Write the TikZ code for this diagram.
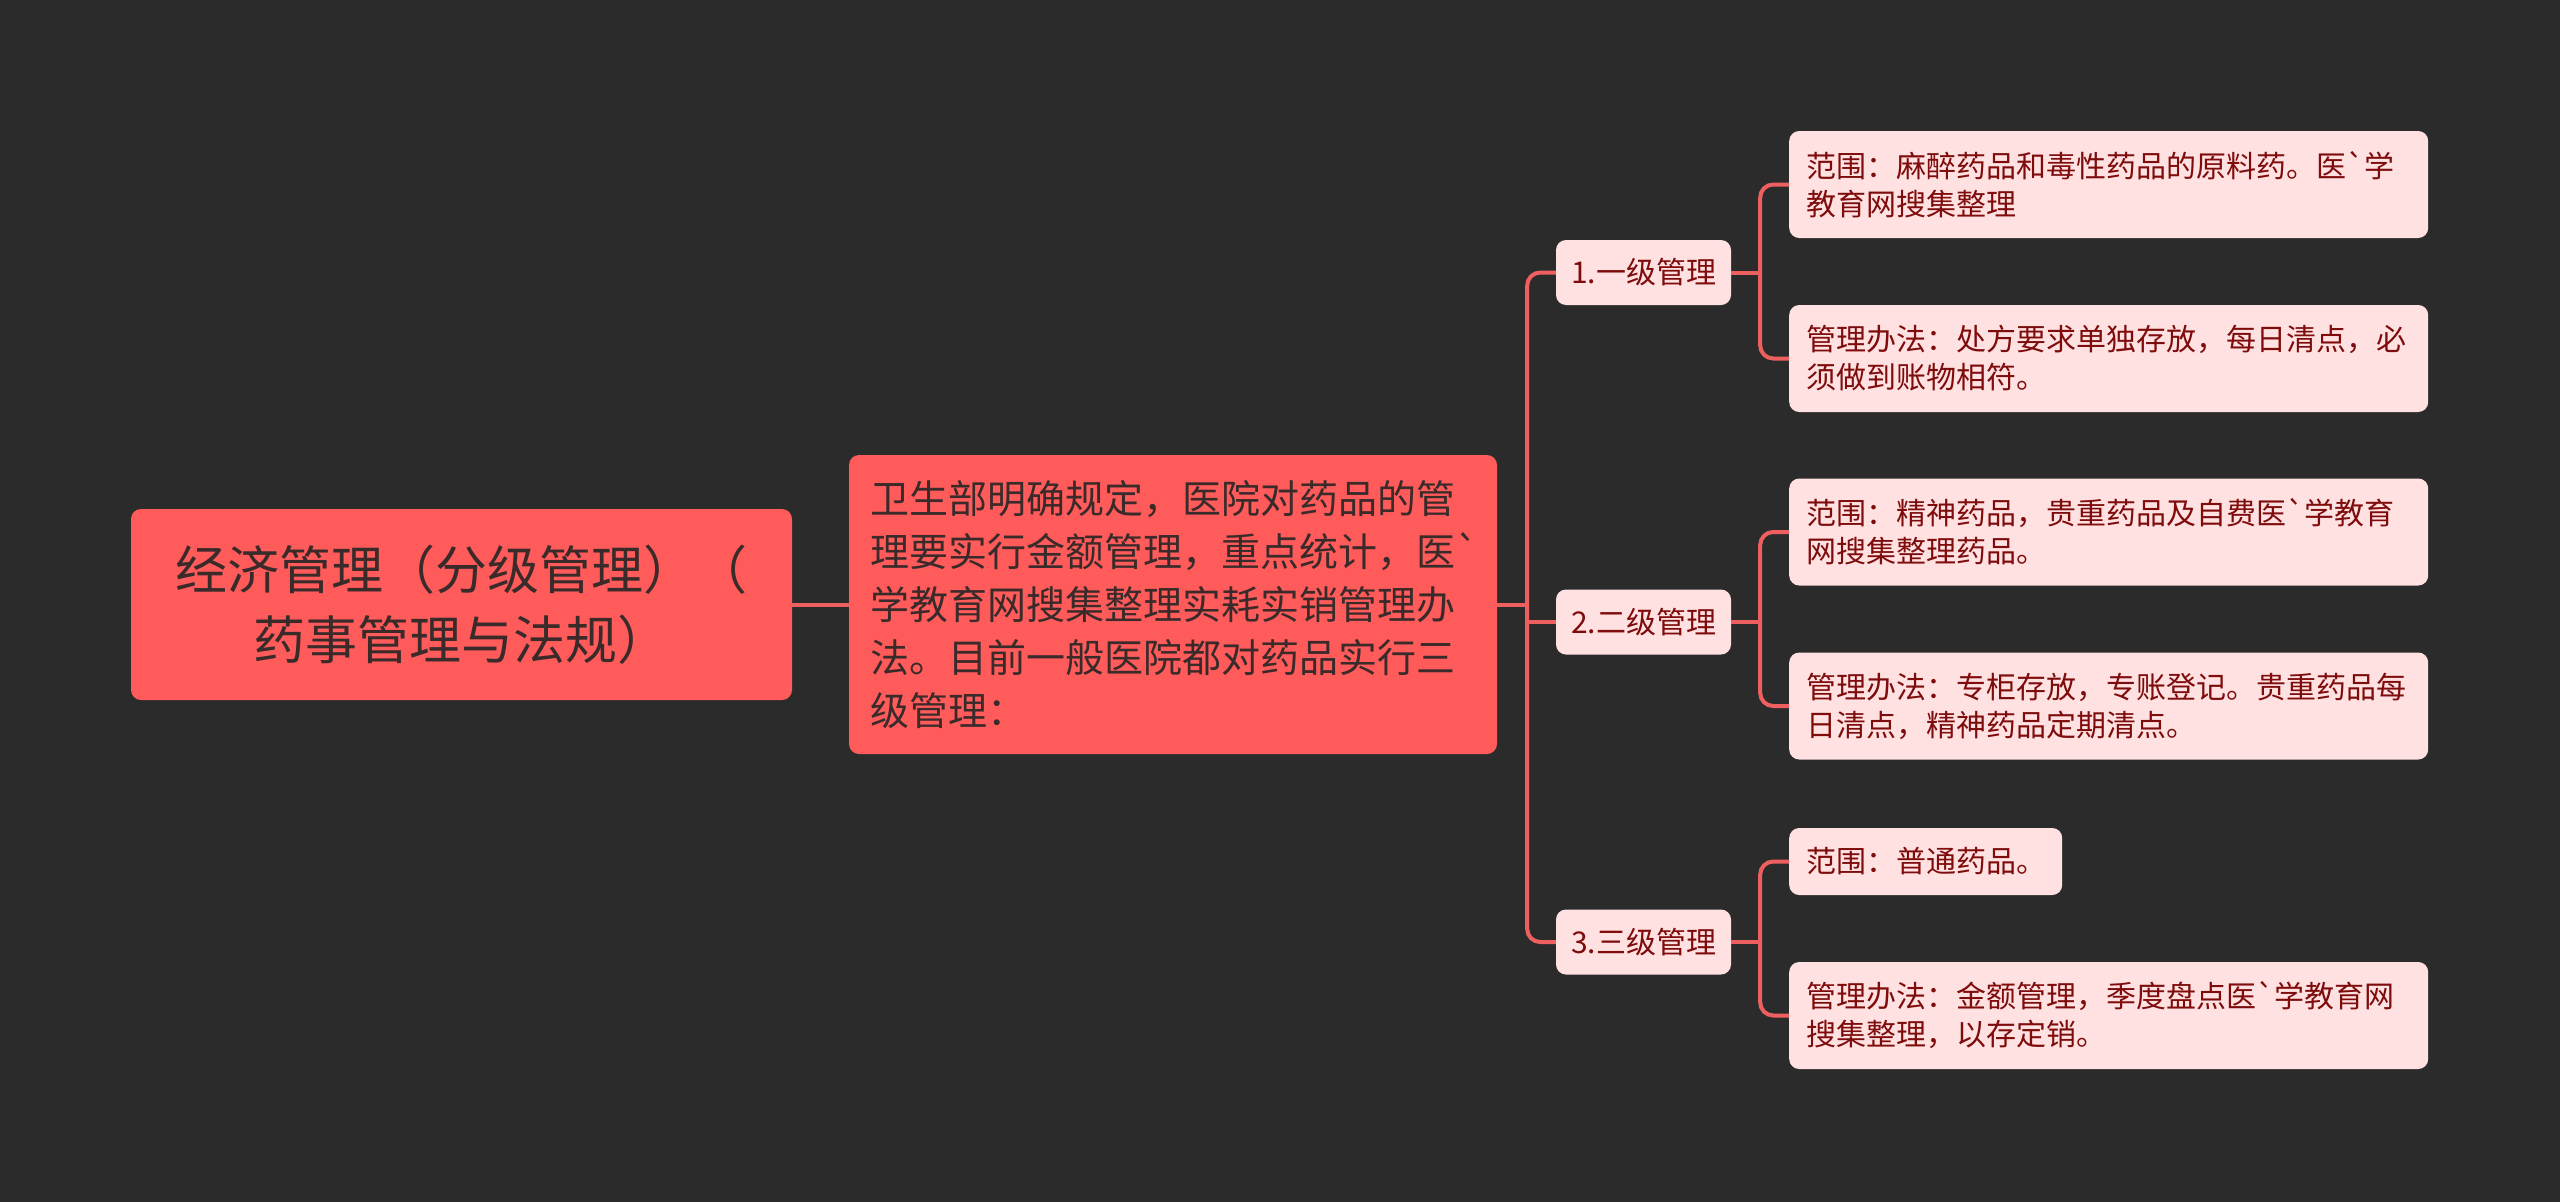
\documentclass[tikz,border=0pt]{standalone}
\usepackage{fontspec}
\setmainfont{Noto Sans CJK SC}[Ligatures=TeXOff]
\usepackage{xcolor}
\definecolor{bgdark}{HTML}{2B2B2B}
\definecolor{rootred}{HTML}{FF5B5B}
\definecolor{inkdark}{HTML}{3A2A2A}
\definecolor{leafpink}{HTML}{FFE1E1}
\definecolor{inkred}{HTML}{7F0C0C}
\definecolor{linkred}{HTML}{EE6060}

\begin{document}
\begin{tikzpicture}[
    x=1pt, y=-1pt,
    rootbox/.style={rectangle, fill=rootred, text=inkdark, rounded corners=10pt, align=center,
        minimum width=661pt, minimum height=191pt, font=\fontsize{52}{70}\selectfont},
    mainbox/.style={rectangle, fill=rootred, text=inkdark, rounded corners=10pt, align=left,
        text width=606pt, inner xsep=21pt, minimum height=299pt, font=\fontsize{39}{53}\selectfont},
    levelbox/.style={rectangle, fill=leafpink, text=inkred, rounded corners=10pt,
        minimum width=175pt, minimum height=65pt, font=\fontsize{30}{38}\selectfont},
    leafbox/.style={rectangle, fill=leafpink, text=inkred, rounded corners=10pt, align=left,
        text width=605pt, inner xsep=17pt, minimum height=107pt, font=\fontsize{30}{38}\selectfont},
    link/.style={draw=linkred, line width=4pt, rounded corners=13pt}
]
\useasboundingbox[fill=bgdark] (0,0) rectangle (2560,1202);

% --- Root and main statement ---
\node[rootbox] (root) at (461.5,604.5) {经济管理（分级管理）（\\药事管理与法规）};
\node[mainbox] (rule) at (1173,604.5) {卫生部明确规定，医院对药品的管\\理要实行金额管理，重点统计，医`\\学教育网搜集整理实耗实销管理办\\法。目前一般医院都对药品实行三\\级管理：};

% --- Three levels ---
\node[levelbox] (lvone) at (1643.5,272.5) {1.一级管理};
\node[levelbox] (lvtwo) at (1643.5,622) {2.二级管理};
\node[levelbox] (lvthree) at (1643.5,942) {3.三级管理};

% --- Leaves ---
\node[leafbox, anchor=west] (onescope) at (1789,184.5) {范围：麻醉药品和毒性药品的原料药。医`学\\教育网搜集整理};
\node[leafbox, anchor=west] (onerule) at (1789,358.5) {管理办法：处方要求单独存放，每日清点，必\\须做到账物相符。};
\node[leafbox, anchor=west] (twoscope) at (1789,532) {范围：精神药品，贵重药品及自费医`学教育\\网搜集整理药品。};
\node[leafbox, anchor=west] (tworule) at (1789,706) {管理办法：专柜存放，专账登记。贵重药品每\\日清点，精神药品定期清点。};
\node[leafbox, anchor=west, text width=239pt, minimum height=67pt] (threescope) at (1789,861.5) {范围：普通药品。};
\node[leafbox, anchor=west] (threerule) at (1789,1015.5) {管理办法：金额管理，季度盘点医`学教育网\\搜集整理，以存定销。};

% --- Connections ---
\coordinate (hub) at ([xshift=30pt]rule.east);
\draw[link] (root.east) -- (rule.west);
\draw[link] (rule.east) -- (hub);
\draw[link] (lvone.west) -| (hub) |- (lvthree.west);
\draw[link] (hub |- lvtwo.west) -- (lvtwo.west);

\foreach \lv/\up/\down in {lvone/onescope/onerule, lvtwo/twoscope/tworule, lvthree/threescope/threerule} {
    \coordinate (\lv-fork) at ([xshift=29pt]\lv.east);
    \draw[link] (\lv.east) -- (\lv-fork);
    \draw[link] (\up.west) -| (\lv-fork) |- (\down.west);
}

\end{tikzpicture}
\end{document}
